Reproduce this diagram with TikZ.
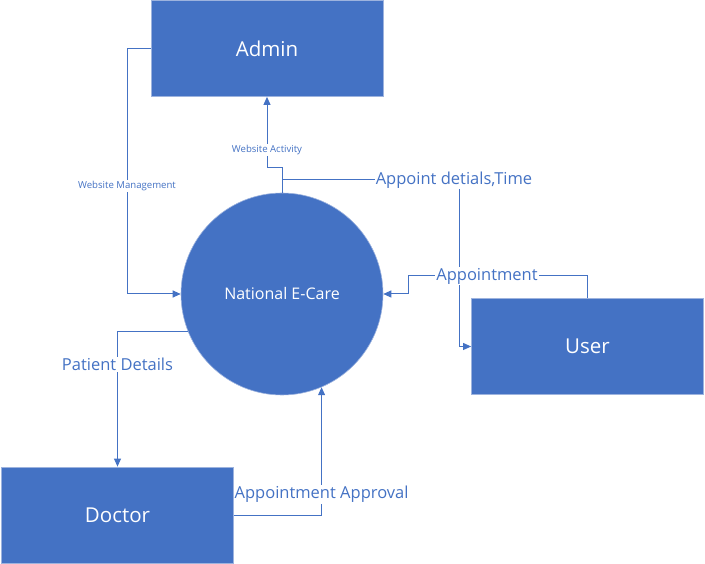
\documentclass[tikz,border=0pt]{standalone}
\usepackage{fontspec}
\setmainfont{Open Sans}
\usetikzlibrary{arrows.meta}
\definecolor{ecblue}{HTML}{4472C4}
\definecolor{ecedge}{HTML}{9DB3DE}

\begin{document}
\begin{tikzpicture}[
        x=1pt, y=-1pt,
        >={Triangle[length=8pt,width=7pt]},
        entity/.style={
            rectangle,
            minimum width=232pt,
            minimum height=96pt,
            fill=ecblue,
            draw=ecedge,
            line width=0.8pt,
            text=white,
            font=\fontsize{20.5}{24}\selectfont
        },
        process/.style={
            circle,
            minimum size=202pt,
            fill=ecblue,
            draw=ecedge,
            line width=0.6pt,
            text=white,
            font=\fontsize{16}{19}\selectfont
        },
        flow/.style={->, draw=ecblue, line width=1pt},
        biglbl/.style={fill=white, text=ecblue, inner sep=1pt,
            font=\fontsize{16.5}{19}\selectfont},
        smalllbl/.style={fill=white, text=ecblue, inner sep=1pt,
            font=\fontsize{9.6}{11}\selectfont}
    ]
        \useasboundingbox (0,0) rectangle (705,564);

        % External entities and the main process
        \node[entity] (admin) at (267,48.5) {Admin};
        \node[entity] (user) at (587.5,346.5) {User};
        \node[entity] (doctor) at (117.5,515) {Doctor};
        \node[process] (ecare) at (282,294) {National E-Care};

        % Data flows
        \draw[flow] (admin.west) -- (127,48.5) |- node[smalllbl, pos=0.28] {Website Management} (ecare.west);
        \draw[flow] (ecare.north) -- (282,168) -- (267,168) -- node[smalllbl, pos=0.25] {Website Activity} (admin.south);
        \draw[flow] (282,180) -- (459,180) node[biglbl, xshift=-5pt] {Appoint detials,Time} -- (459,346.5) -- (user.west);
        \draw[flow] (user.north) |- node[biglbl, pos=0.78] {Appointment} (408,276) -- (408,294) -- (ecare.east);
        \draw[flow] (ecare.202.7) -| node[biglbl, pos=0.62] {Patient Details} (doctor.north);
        \draw[flow] (doctor.east) -| node[biglbl, pos=0.58] {Appointment Approval} (ecare.293.3);
    \end{tikzpicture}
\end{document}
